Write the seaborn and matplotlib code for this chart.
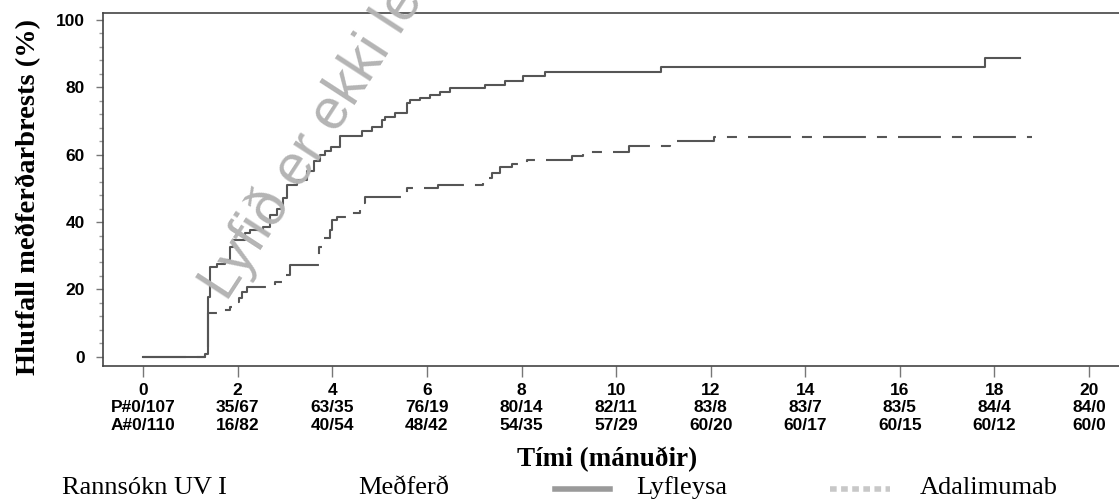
import numpy as np
import pandas as pd
import seaborn as sns
import matplotlib
matplotlib.use('Agg')
import matplotlib.pyplot as plt
from matplotlib.lines import Line2D

# Kaplan-Meier step values
placebo_months = [0, 1.30, 1.37, 1.42, 1.57, 1.73, 1.84, 1.91, 2.16, 2.26, 2.54, 2.68,
                  2.83, 2.96, 3.04, 3.26, 3.47, 3.62, 3.74, 3.85, 3.97, 4.16, 4.63,
                  4.84, 5.05, 5.12, 5.33, 5.58, 5.64, 5.86, 6.07, 6.28, 6.49, 7.23,
                  7.65, 8.03, 8.50, 10.95, 17.80, 18.55]
placebo_pct = [0, 1.0, 17.8, 26.7, 27.5, 28.8, 32.6, 34.7, 36.8, 37.7, 38.6, 42.0,
               44.0, 47.0, 51.0, 52.5, 55.0, 58.0, 60.0, 61.0, 62.3, 65.5, 67.0,
               68.3, 70.3, 71.2, 72.4, 75.4, 76.3, 76.9, 77.7, 78.6, 79.8, 80.7,
               81.9, 83.4, 84.6, 86.1, 88.7, 88.7]

adali_months = [0, 1.30, 1.37, 1.60, 1.84, 1.95, 2.02, 2.09, 2.20, 2.79, 2.96, 3.10,
                3.72, 3.80, 3.95, 4.00, 4.10, 4.38, 4.59, 4.69, 5.58, 6.24, 7.19,
                7.27, 7.38, 7.55, 7.80, 8.12, 9.07, 9.30, 10.27, 11.14, 12.07, 18.80]
adali_pct = [0, 1.0, 13.0, 14.0, 14.8, 16.3, 17.5, 19.3, 20.8, 22.3, 24.3, 27.3,
             32.6, 35.3, 37.5, 40.6, 41.5, 42.7, 45.7, 47.5, 50.1, 51.0, 52.0,
             53.0, 54.6, 56.4, 57.2, 58.5, 59.7, 60.9, 62.4, 63.9, 65.3, 65.3]

# number at risk table under the x axis
tick_months = [0, 2, 4, 6, 8, 10, 12, 14, 16, 18, 20]
placebo_events = [0, 35, 63, 76, 80, 82, 83, 83, 83, 84, 84]
placebo_risk = [107, 67, 35, 19, 14, 11, 8, 7, 5, 4, 0]
adali_events = [0, 16, 40, 48, 54, 57, 60, 60, 60, 60, 60]
adali_risk = [110, 82, 54, 42, 35, 29, 20, 17, 15, 12, 0]

df = pd.concat([
    pd.DataFrame({'t': placebo_months, 'pct': placebo_pct, 'arm': 'Lyfleysa'}),
    pd.DataFrame({'t': adali_months, 'pct': adali_pct, 'arm': 'Adalimumab'}),
])

tick_font = dict(family='Liberation Sans', weight='bold', size=12.5)

fig = plt.figure(figsize=(11.19, 5.01), dpi=100)
ax = fig.add_axes([0.092, 0.2695, 0.91, 0.7046])

line_col = '#555555'
sns.lineplot(data=df, x='t', y='pct', style='arm', estimator=None, sort=False,
             dashes={'Lyfleysa': '', 'Adalimumab': (20.6, 5.3, 4.8, 5.3)},
             color=line_col, linewidth=1.5, drawstyle='steps-post',
             legend=False, ax=ax)

ax.set_xlim(-0.85, 20.68)
ax.set_ylim(-2.7, 102)
ax.set_xlabel('')
ax.set_ylabel('')

for s in ax.spines.values():
    s.set_color('#444444')
    s.set_linewidth(1.2)

ax.set_yticks([0, 20, 40, 60, 80, 100])
ax.set_yticks(np.arange(0, 101, 4), minor=True)
ax.set_yticklabels(['0', '20', '40', '60', '80', '100'], fontdict=tick_font)
ax.tick_params(axis='y', which='major', length=5, width=1, color='#777777', pad=8)
ax.tick_params(axis='y', which='minor', length=3, width=1, color='#999999')

labels = []
for i, m in enumerate(tick_months):
    if i == 0:
        labels.append(f'{m}\nP#{placebo_events[i]}/{placebo_risk[i]}\nA#{adali_events[i]}/{adali_risk[i]}')
    else:
        labels.append(f'{m}\n{placebo_events[i]}/{placebo_risk[i]}\n{adali_events[i]}/{adali_risk[i]}')
ax.set_xticks(tick_months)
ax.set_xticklabels(labels, fontdict=tick_font, linespacing=1.22)
ax.tick_params(axis='x', length=8, width=1, color='#777777', pad=4)

serif = 'Liberation Serif'
fig.text(0.025, 0.607, 'Hlutfall meðferðarbrests (%)', rotation=90, ha='center',
         va='center', family=serif, weight='bold', size=20.5)
fig.text(0.543, 0.084, 'Tími (mánuðir)', ha='center', va='center',
         family=serif, weight='bold', size=19.5)

# bottom caption with legend samples
fig.text(0.055, 0.026, 'Rannsókn UV I', ha='left', va='center', family=serif, size=19)
fig.text(0.320, 0.026, 'Meðferð', ha='left', va='center', family=serif, size=19)
fig.text(0.569, 0.026, 'Lyfleysa', ha='left', va='center', family=serif, size=19)
fig.text(0.822, 0.026, 'Adalimumab', ha='left', va='center', family=serif, size=19)
fig.add_artist(Line2D([0.496, 0.545], [0.024, 0.024], transform=fig.transFigure,
                      color='#9a9a9a', linewidth=4))
fig.add_artist(Line2D([0.742, 0.795], [0.024, 0.024], transform=fig.transFigure,
                      color='#c8c8c8', linewidth=4, dashes=(1.2, 0.8)))

# watermark
fig.text(0.203, 0.396, 'Lyfið er ekki lengur með markaðsleyfi', rotation=57,
         rotation_mode='anchor', ha='left', va='baseline', family='Liberation Sans',
         size=41, color='#b4b4b4', zorder=10)

fig.savefig('out.png', dpi=100)
